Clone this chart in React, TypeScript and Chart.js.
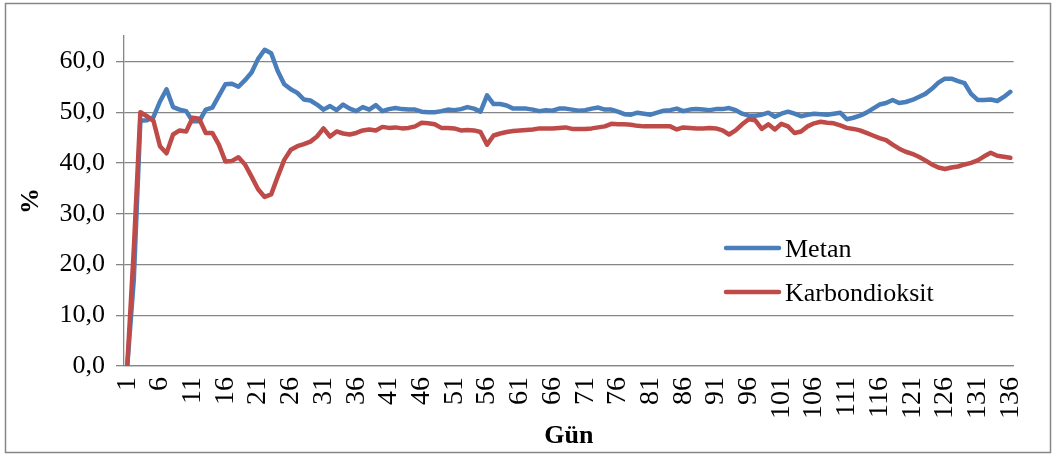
import React, { useEffect, useRef } from 'react';
import { Chart, registerables } from 'chart.js';

Chart.register(...registerables);

// Day numbers on the category axis (1 … 136)
const days: string[] = Array.from({ length: 136 }, (_, i) => String(i + 1));

// Methane share of the biogas, % (per day)
const metan: number[] = [
  0, 17, 48.3, 48.4, 49.0, 52.1, 54.5, 51.0, 50.5, 50.2,
  48.2, 48.2, 50.5, 50.9, 53.2, 55.5, 55.6, 55.0, 56.3, 57.8,
  60.5, 62.3, 61.6, 58.1, 55.5, 54.5, 53.8, 52.5, 52.3, 51.5,
  50.5, 51.2, 50.4, 51.5, 50.7, 50.2, 51.0, 50.5, 51.4, 50.2,
  50.6, 50.8, 50.6, 50.5, 50.5, 50.1, 50.0, 50.0, 50.2, 50.5,
  50.4, 50.6, 51.0, 50.7, 50.1, 53.3, 51.6, 51.6, 51.3, 50.7,
  50.7, 50.7, 50.5, 50.2, 50.4, 50.3, 50.7, 50.7, 50.5, 50.3,
  50.4, 50.7, 50.9, 50.5, 50.5, 50.1, 49.6, 49.5, 49.9, 49.7,
  49.5, 49.9, 50.3, 50.4, 50.7, 50.2, 50.5, 50.6, 50.5, 50.4,
  50.6, 50.6, 50.8, 50.4, 49.7, 49.3, 49.3, 49.5, 49.9, 49.1,
  49.7, 50.1, 49.7, 49.2, 49.5, 49.7, 49.6, 49.5, 49.7, 49.9,
  48.6, 48.9, 49.3, 49.9, 50.7, 51.5, 51.8, 52.4, 51.8, 52.0,
  52.4, 53.0, 53.6, 54.6, 55.8, 56.6, 56.6, 56.1, 55.7, 53.6,
  52.4, 52.4, 52.5, 52.2, 53.0, 54.0,
];

// Carbon dioxide share of the biogas, % (per day)
const karbondioksit: number[] = [
  0, 23, 50.0, 49.2, 48.3, 43.3, 41.9, 45.6, 46.4, 46.2,
  48.9, 48.7, 45.9, 45.9, 43.6, 40.3, 40.4, 41.1, 39.7, 37.3,
  34.8, 33.3, 33.8, 37.3, 40.6, 42.6, 43.3, 43.7, 44.2, 45.2,
  46.8, 45.2, 46.2, 45.8, 45.6, 45.9, 46.4, 46.6, 46.4, 47.1,
  46.9, 47.0, 46.8, 46.9, 47.2, 47.9, 47.8, 47.6, 46.9, 46.9,
  46.8, 46.4, 46.5, 46.4, 46.1, 43.6, 45.4, 45.8, 46.1, 46.3,
  46.4, 46.5, 46.6, 46.8, 46.8, 46.8, 46.9, 47.0, 46.7, 46.7,
  46.7, 46.8, 47.0, 47.2, 47.7, 47.6, 47.6, 47.5, 47.3, 47.2,
  47.2, 47.2, 47.2, 47.2, 46.6, 47.0, 46.9, 46.8, 46.8, 46.9,
  46.8, 46.4, 45.6, 46.4, 47.6, 48.6, 48.4, 46.7, 47.6, 46.6,
  47.7, 47.2, 45.9, 46.2, 47.2, 47.8, 48.1, 47.9, 47.8, 47.4,
  46.9, 46.7, 46.4, 45.9, 45.4, 44.9, 44.5, 43.6, 42.8, 42.2,
  41.8, 41.2, 40.5, 39.7, 39.1, 38.8, 39.1, 39.3, 39.7, 40.0,
  40.5, 41.3, 42.0, 41.4, 41.2, 41.0,
];

const yTicks: number[] = [0, 10, 20, 30, 40, 50, 60];
const seriesNames: string[] = ['Metan', 'Karbondioksit'];
const seriesColors: string[] = ['#4A7EBB', '#BE4B48'];

const SERIF = '"Liberation Serif", "Times New Roman", serif';
const GRID = '#868686';

// White page and the thin grey frame round the whole chart
const framePlugin = {
  id: 'frame',
  beforeDraw(chart: any) {
    const { ctx, width, height } = chart;
    ctx.save();
    ctx.fillStyle = '#ffffff';
    ctx.fillRect(0, 0, width, height);
    ctx.strokeStyle = GRID;
    ctx.lineWidth = 1.5;
    ctx.strokeRect(5.5, 3.5, 1045, 449);
    ctx.restore();
  },
};

// Legend inside the plot, to the right: short line sample + series name
const insideLegend = {
  id: 'insideLegend',
  afterDatasetsDraw(chart: any) {
    const { ctx } = chart;
    const x0 = 726;
    const x1 = 779;
    const rows = [248, 292];
    ctx.save();
    chart.data.datasets.forEach((ds: any, i: number) => {
      const y = rows[i];
      ctx.strokeStyle = ds.borderColor;
      ctx.lineWidth = 4.5;
      ctx.lineCap = 'round';
      ctx.beginPath();
      ctx.moveTo(x0, y);
      ctx.lineTo(x1, y);
      ctx.stroke();
      ctx.fillStyle = '#000000';
      ctx.font = `26px ${SERIF}`;
      ctx.textAlign = 'left';
      ctx.textBaseline = 'alphabetic';
      ctx.fillText(ds.label, 785, y + 9);
    });
    ctx.restore();
  },
};

export default function App() {
  const canvasRef = useRef<HTMLCanvasElement | null>(null);

  useEffect(() => {
    const canvas = canvasRef.current;
    if (!canvas) return;
    const lineStyle = {
      borderWidth: 4.5,
      pointRadius: 0,
      tension: 0,
      fill: false,
      borderCapStyle: 'round',
      borderJoinStyle: 'round',
    };
    const chart = new Chart(canvas, {
      type: 'line',
      data: {
        labels: days,
        datasets: [
          {
            ...lineStyle,
            label: seriesNames[0],
            data: metan,
            borderColor: seriesColors[0],
            backgroundColor: seriesColors[0],
            order: 1,
          },
          {
            ...lineStyle,
            label: seriesNames[1],
            data: karbondioksit,
            borderColor: seriesColors[1],
            backgroundColor: seriesColors[1],
            order: 0,
          },
        ],
      },
      options: {
        responsive: false,
        animation: false,
        devicePixelRatio: 1,
        layout: { padding: { left: 0, top: 36, right: 12, bottom: 0 } },
        plugins: {
          legend: { display: false },
          tooltip: { enabled: false },
        },
        scales: {
          x: {
            type: 'category',
            offset: true,
            grid: { display: false, drawTicks: false },
            border: { display: true, color: GRID, width: 1.3 },
            ticks: {
              autoSkip: false,
              minRotation: 90,
              maxRotation: 90,
              padding: 11,
              color: '#000000',
              font: { family: SERIF, size: 28 },
              callback: (_v: any, idx: number) => (idx % 5 === 0 ? days[idx] : ''),
            },
            title: {
              display: true,
              text: 'Gün',
              color: '#000000',
              font: { family: SERIF, size: 26, weight: 'bold' },
              padding: { top: 0, bottom: 5 },
            },
            afterFit: (scale: any) => {
              scale.height = 91;
            },
          },
          y: {
            type: 'linear',
            min: 0,
            max: 65,
            grid: {
              color: GRID,
              lineWidth: 1.3,
              drawTicks: true,
              tickLength: 8,
              tickColor: GRID,
            },
            border: { display: true, color: GRID, width: 1.3 },
            afterBuildTicks: (scale: any) => {
              scale.ticks = yTicks.map((v) => ({ value: v }));
            },
            ticks: {
              padding: 11,
              color: '#000000',
              font: { family: SERIF, size: 26 },
              callback: (v: any) => Number(v).toFixed(1).replace('.', ','),
            },
            title: {
              display: true,
              text: '%',
              color: '#000000',
              font: { family: SERIF, size: 26, weight: 'bold' },
              padding: { top: 16, bottom: 0 },
            },
            afterFit: (scale: any) => {
              scale.width = 124;
            },
          },
        },
      },
      plugins: [framePlugin, insideLegend],
    } as any);
    return () => chart.destroy();
  }, []);

  return (
    <div style={{ position: 'fixed', left: 0, top: 0, width: 1055, height: 457 }}>
      <canvas ref={canvasRef} width={1055} height={457} style={{ display: 'block' }} />
    </div>
  );
}
